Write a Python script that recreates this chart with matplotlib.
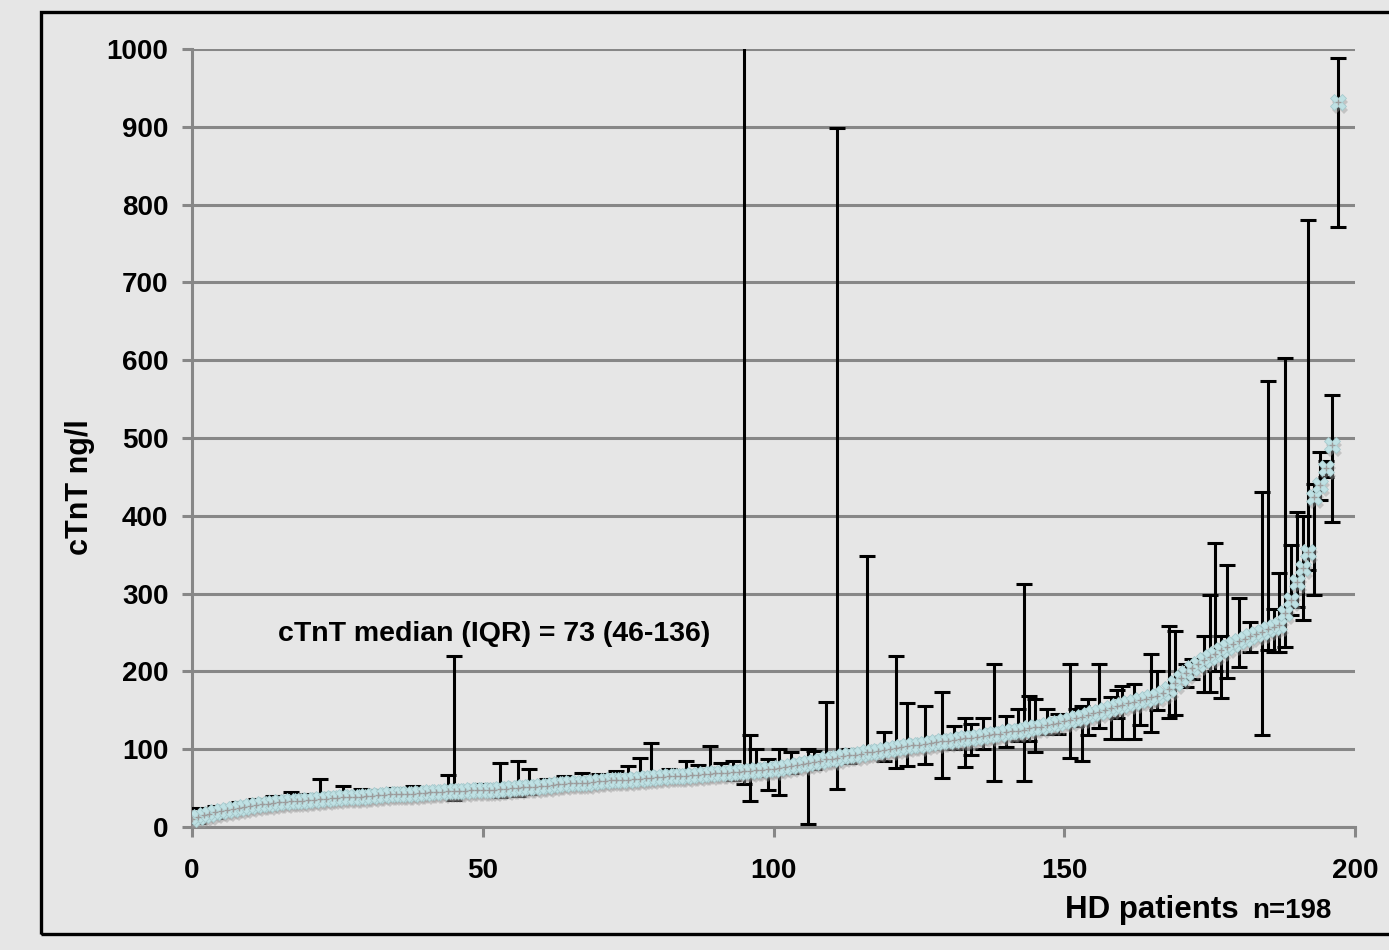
import numpy as np
import matplotlib
matplotlib.use("Agg")
import matplotlib.pyplot as plt
from matplotlib.patches import Rectangle
from matplotlib.transforms import offset_copy

plt.rcParams['font.family'] = ['Liberation Sans', 'DejaVu Sans']
plt.rcParams['font.weight'] = 'bold'

# cTnT (ng/l) per HD patient, sorted ascending
ctnt = np.array([
    10, 13, 15, 17, 19, 20, 22, 23, 25, 26,
    27, 28, 29, 30, 31, 32, 32, 33, 34, 34,
    35, 35, 36, 36, 37, 37, 38, 38, 39, 39,
    40, 40, 41, 41, 42, 42, 43, 43, 43, 44,
    44, 45, 45, 45, 46, 46, 46, 46, 47, 47,
    47, 48, 48, 49, 49, 50, 50, 51, 52, 52,
    53, 53, 54, 55, 55, 56, 56, 57, 57, 58,
    59, 59, 60, 60, 61, 61, 62, 62, 63, 63,
    64, 64, 65, 65, 66, 66, 67, 67, 68, 68,
    69, 70, 70, 71, 71, 72, 72, 73, 73, 74,
    75, 76, 77, 79, 80, 81, 82, 84, 85, 87,
    88, 89, 91, 92, 93, 94, 96, 97, 98, 99,
    100, 102, 103, 104, 105, 106, 107, 108, 109, 110,
    111, 112, 113, 114, 115, 116, 117, 118, 119, 120,
    122, 123, 124, 125, 127, 128, 129, 131, 132, 134,
    136, 138, 140, 142, 144, 146, 148, 150, 153, 155,
    157, 159, 161, 163, 165, 167, 168, 172, 178, 185,
    192, 198, 205, 210, 215, 219, 223, 227, 231, 235,
    239, 242, 245, 248, 251, 254, 257, 260, 275, 292,
    315, 333, 353, 424, 440, 461, 491, 932,
], dtype=float)
patient = np.arange(len(ctnt))

# patients with visible range bars: index, low, high
err_idx = [1, 4, 8, 11, 14, 17, 20, 22, 24, 26, 29, 32, 35, 38, 41, 44, 45, 48, 50,
           53, 56, 58, 61, 64, 67, 70, 73, 75, 77, 79, 82, 85, 87, 89, 91, 93, 95, 96,
           97, 99, 101, 103, 106, 107, 109, 111, 113, 116, 119, 121, 123, 126, 129,
           131, 133, 134, 136, 138, 140, 142, 143, 144, 145, 147, 149, 151, 152, 153,
           154, 156, 158, 159, 160, 162, 163, 165, 166, 168, 169, 171, 172, 174, 175,
           176, 177, 178, 180, 182, 184, 185, 186, 187, 188, 189, 190, 191, 192, 193,
           194, 195, 196, 197]
err_low = [5, 12, 20, 22, 26, 28, 30, 30, 32, 33, 35, 36, 37, 38, 40, 40, 35, 42, 43,
           38, 40, 42, 48, 50, 52, 55, 55, 55, 57, 58, 60, 60, 62, 62, 64, 60, 55, 33,
           65, 48, 41, 70, 4, 75, 80, 49, 82, 90, 85, 76, 78, 81, 63,
           100, 77, 92, 100, 59, 103, 110, 59, 110, 96, 120, 120, 89, 130, 85,
           118, 127, 113, 140, 113, 113, 131, 122, 150, 140, 144, 180, 190, 174, 174,
           200, 166, 191, 206, 225, 118, 227, 225, 225, 232, 272, 283, 266, 330, 298,
           420, 450, 392, 771]
err_high = [24, 27, 32, 36, 40, 45, 42, 62, 44, 53, 49, 47, 50, 53, 50, 67, 220, 52, 55,
            82, 85, 74, 62, 66, 70, 68, 72, 79, 89, 108, 75, 85, 80, 104, 82, 85, 1050, 118,
            100, 88, 100, 96, 100, 98, 161, 898, 100, 348, 122, 220, 159, 156, 173,
            130, 140, 133, 140, 210, 143, 152, 312, 169, 164, 152, 145, 210, 152, 155,
            164, 210, 167, 176, 181, 184, 169, 223, 200, 258, 252, 210, 216, 246, 298,
            365, 245, 337, 294, 264, 430, 573, 280, 327, 603, 362, 405, 400, 780, 441,
            482, 470, 555, 988]

x_ticks = [0, 50, 100, 150, 200]
y_ticks = [0, 100, 200, 300, 400, 500, 600, 700, 800, 900, 1000]

bg = '#e6e6e6'
grid_c = '#878787'

fig = plt.figure(figsize=(13.89, 9.5), dpi=100, facecolor=bg)
ax = fig.add_axes([192 / 1389, 1 - 827 / 950, (1355 - 192) / 1389, (827 - 49) / 950])
ax.set_facecolor(bg)

ax.set_xlim(0, 200)
ax.set_ylim(0, 1000)
ax.set_xticks(x_ticks)
ax.set_yticks(y_ticks)
ax.yaxis.grid(True, color=grid_c, linewidth=2.2)
ax.set_axisbelow(True)
for s in ['top', 'right']:
    ax.spines[s].set_visible(False)
for s in ['left', 'bottom']:
    ax.spines[s].set_color(grid_c)
    ax.spines[s].set_linewidth(2.2)
ax.tick_params(axis='both', direction='out', color=grid_c, width=2.2, length=7,
               labelsize=20, labelcolor='black')
ax.tick_params(axis='y', pad=10)
ax.tick_params(axis='x', pad=15)
for lab in ax.get_xticklabels() + ax.get_yticklabels():
    lab.set_fontweight('bold')

# range bars
ev = ctnt[err_idx]
yerr = [ev - np.array(err_low), np.array(err_high) - ev]
ax.errorbar(err_idx, ev, yerr=yerr, fmt='none', ecolor='black', elinewidth=2.2,
            capsize=6, capthick=2.2, zorder=3)

# marker shadow
shadow = offset_copy(ax.transData, fig=fig, x=2, y=-4, units='dots')
ax.plot(patient, ctnt, linestyle='none', marker='X', markersize=11.5, color='#9a9a9a',
        alpha=0.45, markeredgewidth=0, transform=shadow, zorder=3.5)
ax.plot(patient, ctnt, linestyle='none', marker='X', markersize=11,
        markerfacecolor='#bfe1e4', markeredgecolor='#a7c9cc', markeredgewidth=0.6, zorder=4)
ax.plot(patient, ctnt, linestyle='none', marker='+', markersize=4, color='#9c9c9c',
        markeredgewidth=1.0, zorder=4.5)

ax.text(14.8, 248, 'cTnT median (IQR) = 73 (46-136)', fontsize=20.5, fontweight='bold',
        ha='left', va='center', zorder=6)

fig.text(80 / 1389, 1 - 487 / 950, 'cTnT ng/l', rotation=90, fontsize=22,
         fontweight='bold', ha='center', va='center')
fig.text(1065 / 1389, 1 - 918 / 950, 'HD patients', fontsize=22.5, fontweight='bold',
         ha='left', va='baseline')
fig.text(1252 / 1389, 1 - 918 / 950, 'n=198', fontsize=20, fontweight='bold',
         ha='left', va='baseline')

# outer frame
fig.patches.append(Rectangle((41 / 1389, 1 - 934 / 950), 1.2, (934 - 12) / 950,
                             transform=fig.transFigure, fill=False, edgecolor='black',
                             linewidth=2.4, clip_on=False))

plt.savefig("out.png", dpi=100, facecolor=bg)
